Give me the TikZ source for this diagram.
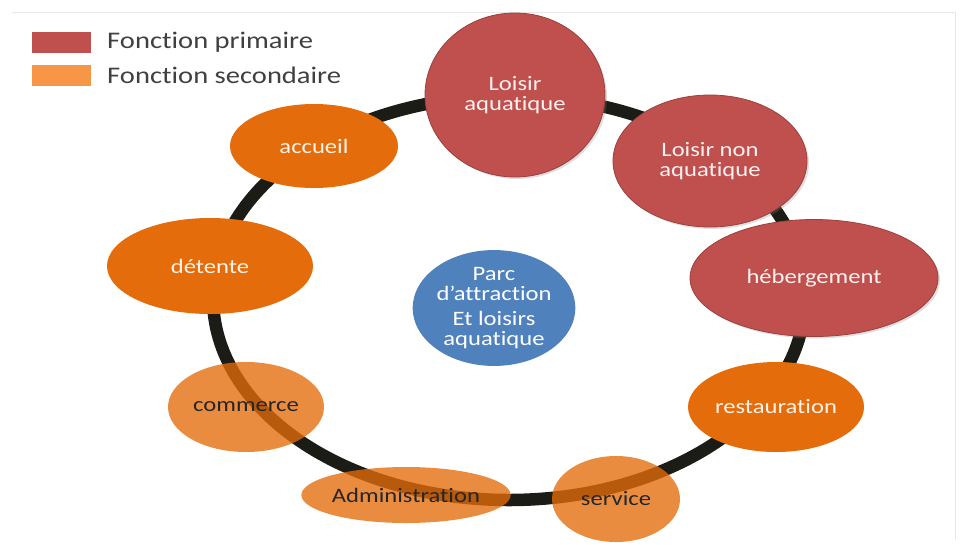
\documentclass[tikz,border=0pt]{standalone}
\usepackage{fontspec}
\setmainfont{Carlito}[Ligatures=NoCommon, FakeStretch=1.2]
\usepackage{tikz}
\usetikzlibrary{positioning,shapes.geometric,shadows}

\definecolor{primred}{HTML}{C0504D}
\definecolor{secorange}{HTML}{E46C0A}
\definecolor{legorange}{HTML}{F79646}
\definecolor{parcblue}{HTML}{4F81BD}
\definecolor{ringdark}{HTML}{1C1C16}

\begin{document}
\begin{tikzpicture}[
  x=1pt, y=-1pt,
  every node/.style={font=\fontsize{20.5}{20.5}\selectfont},
  bubble/.style={ellipse, inner sep=0pt, align=center},
  prim/.style={bubble, fill=primred, draw=primred!80!black, line width=0.8pt,
    text=white!92!primred, drop shadow={opacity=0.25, shadow xshift=2pt, shadow yshift=-2pt}},
  sec/.style={bubble, fill=secorange, text=white!92!secorange},
  secfade/.style={bubble, fill=secorange, fill opacity=0.78, text opacity=1, text=black!85},
  centre/.style={bubble, fill=parcblue, text=white},
  legendbox/.style={rectangle, minimum width=59pt, minimum height=21pt, inner sep=0pt}
]
\useasboundingbox (0,0) rectangle (965,544);

% faint frame of the slide
\draw[gray!18, line width=1pt] (12,12) -- (955,12) -- (955,540);

% legend
\node[legendbox, fill=primred] (legprim) at (61,42) {};
\node[legendbox, fill=legorange, below=12pt of legprim] (legsec) {};
\node[right=13pt of legprim, font=\fontsize{23.8}{28}\selectfont, text=black!75] (legprimtxt) {Fonction primaire};
\node[right=13pt of legsec, font=\fontsize{23.8}{28}\selectfont, text=black!75] (legsectxt) {Fonction secondaire};

% ring
\draw[ringdark, line width=12.5pt] (509,298) ellipse (296 and 202);

% centre
\node[centre, minimum width=158pt, minimum height=112pt] (parc) at (494,308)
  {Parc\\d’attraction\\[4pt]Et loisirs\\aquatique};

% primary functions
\node[prim, minimum width=180pt, minimum height=164pt] (aqua) at (515,95) {Loisir\\aquatique};
\node[prim, minimum width=194pt, minimum height=132pt] (nonaqua) at (710,161) {Loisir non\\aquatique};
\node[prim, minimum width=248pt, minimum height=117pt] (heberg) at (814,278) {hébergement};

% secondary functions
\node[sec, minimum width=168pt, minimum height=84pt] (accueil) at (314,146) {accueil};
\node[sec, minimum width=206pt, minimum height=96pt] (detente) at (210,266) {détente};
\node[sec, minimum width=176pt, minimum height=90pt] (resto) at (776,407) {restauration};
\node[secfade, minimum width=156pt, minimum height=90pt] (commerce) at (246,407) {commerce};
\node[secfade, minimum width=208pt, minimum height=56pt] (admin) at (406,495) {Administration};
\node[secfade, minimum width=128pt, minimum height=86pt] (service) at (616,499) {service};
\end{tikzpicture}
\end{document}
